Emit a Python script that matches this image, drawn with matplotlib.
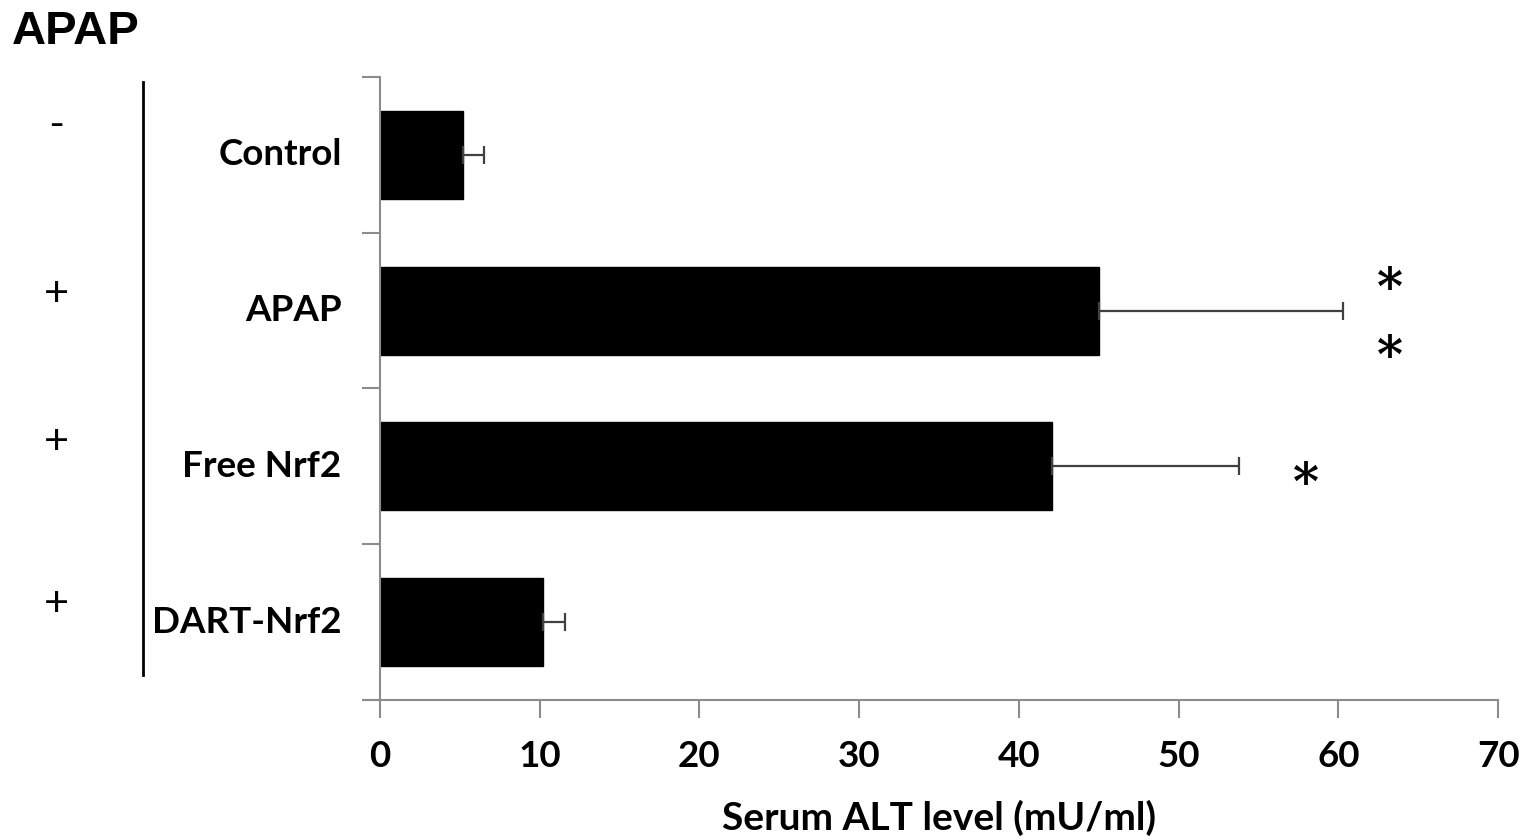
import matplotlib.pyplot as plt
import numpy as np

# ---- data ----
groups = ['Control', 'APAP', 'Free Nrf2', 'DART-Nrf2']
apap_signs = ['-', '+', '+', '+']
alt_mean = [5.2, 45.0, 42.1, 10.2]
alt_err = [1.3, 15.3, 11.7, 1.4]
star_group = [1, 1, 2]
star_x = [63.2, 63.2, 58.0]
star_dy = [-0.13, 0.31, 0.12]

fig = plt.figure(figsize=(15.26, 8.4), dpi=100)
ax = fig.add_axes([0.249, 0.1667, 0.7327, 0.7416])

lab_font = {'family': 'Lato', 'weight': 'bold', 'size': 26.5}
y = np.arange(len(groups))
ax.barh(y, alt_mean, height=0.565, color='black', edgecolor='black')
ax.errorbar(alt_mean, y, xerr=[np.zeros(len(alt_err)), alt_err], fmt='none',
            ecolor='#404040', elinewidth=1.6, capsize=6.5, capthick=1.6)

ax.set_xlim(0, 70)
ax.set_ylim(3.5, -0.5)
ax.set_xticks(np.arange(0, 71, 10))
ax.set_xticklabels([str(v) for v in range(0, 71, 10)], fontdict=lab_font)
ax.set_yticks(np.arange(-0.5, 3.6, 1))
ax.set_yticklabels([])
ax.tick_params(axis='both', color='#8c8c8c', width=1.5, length=13, direction='out')
ax.tick_params(axis='x', pad=16)
for side in ['top', 'right']:
    ax.spines[side].set_visible(False)
for side in ['left', 'bottom']:
    ax.spines[side].set_color('#8c8c8c')
    ax.spines[side].set_linewidth(1.5)
ax.spines['bottom'].set_bounds(-0.8, 70)

for i, g in enumerate(groups):
    ax.text(-2.4, i, g, ha='right', va='center', fontdict=lab_font)

ax.set_xlabel('Serum ALT level (mU/ml)', fontdict={**lab_font, 'size': 28}, labelpad=19)

for g, sx, dy in zip(star_group, star_x, star_dy):
    ax.text(sx, g + dy, '*', ha='center', va='center', fontsize=36,
            fontweight='bold', family='DejaVu Serif')

# APAP column on the left
fig.text(0.008, 0.962, 'APAP', fontsize=34, fontweight='bold',
         family='Liberation Sans', ha='left', va='center')
sign_y = [125, 295, 443, 605]
for s, py in zip(apap_signs, sign_y):
    fig.text(56 / 1526, 1 - py / 840, s, fontsize=31, ha='center', va='center',
             family='Liberation Sans')
fig.add_artist(plt.Line2D([143 / 1526, 143 / 1526], [1 - 82 / 840, 1 - 675 / 840],
                          color='black', linewidth=2))

fig.savefig('out.png', dpi=100)
